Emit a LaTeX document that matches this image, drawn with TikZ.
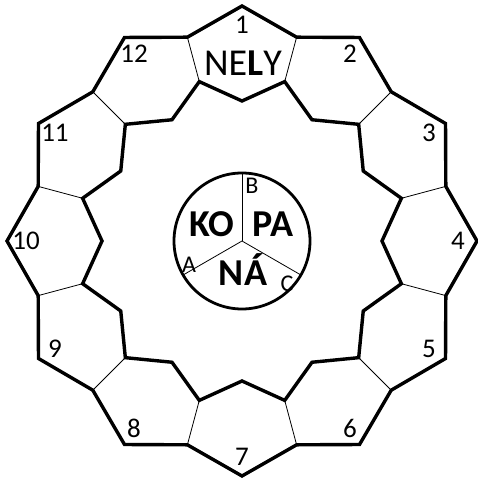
\documentclass[tikz,border=0pt]{standalone}
\usepackage{fontspec}
\setmainfont{Carlito}
\begin{document}
\begin{tikzpicture}[x=1pt,y=1pt,
  starline/.style={line width=3.4pt, line join=miter},
  thinline/.style={line width=0.8pt},
  numlabel/.style={font=\fontsize{27}{31}\selectfont, inner sep=0pt},
  seclabel/.style={font=\fontsize{24}{28}\selectfont, inner sep=0pt},
  bigword/.style={font=\fontsize{38}{42}\selectfont\bfseries, inner sep=0pt}]
\useasboundingbox (0,0) rectangle (477,478);
\begin{scope}[shift={(242,237)}]
  % outer boundary of the ring of cells
  \draw[starline] (90:235) \foreach \i in {1,...,23}{ -- ({90-15*\i}:{223+12*cos(180*\i)}) } -- cycle;
  % inner boundary
  \draw[starline] (90:140) \foreach \i in {1,...,23}{ -- ({90-15*\i}:{152.5-12.5*cos(180*\i)}) } -- cycle;
  % thin separators between cells
  \foreach \i in {1,3,...,23}
    \draw[thinline] ({90-15*\i}:211) -- ({90-15*\i}:165);
  % cell numbers
  \foreach \k in {1,...,12}
    \node[numlabel] (n\k) at ({90-30*(\k-1)}:216) {\k};
  \node[font=\fontsize{38}{42}\selectfont, inner sep=0pt] (nely) at (1,178) {NE\textbf{L}Y};
  % central disc
  \node[circle, draw, line width=2.8pt, minimum size=136pt, outer sep=0pt, inner sep=0pt] (disc) at (0,0) {};
  \coordinate (dc) at (0,0);
  \draw[thinline] (dc) -- (disc.90);
  \draw[thinline] (dc) -- (disc.210);
  \draw[thinline] (dc) -- (disc.330);
  \node[bigword, anchor=base] (ko) at (-30,4) {KO};
  \node[bigword, anchor=base] (pa) at (31,4) {PA};
  \node[bigword, anchor=base] (na) at (1,-45) {NÁ};
  \node[seclabel] (lb) at (10,55) {B};
  \node[seclabel] (la) at (-53,-24) {A};
  \node[seclabel] (lc) at (45,-43) {C};
\end{scope}
\end{tikzpicture}
\end{document}
